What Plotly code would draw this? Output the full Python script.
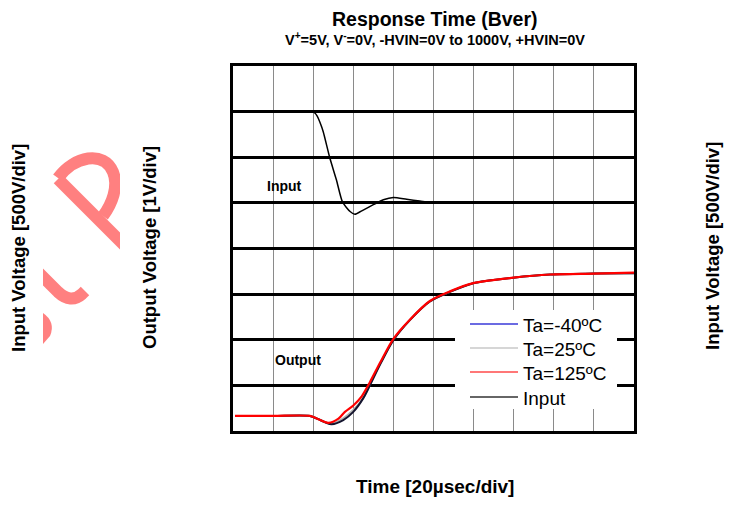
import plotly.graph_objects as go

# ---------------- data (divisions) ----------------
t_input = [0.05, 1.0, 1.96, 2.04, 2.1, 2.17, 2.25, 2.41, 2.58, 2.73, 2.92, 3.04, 3.2, 3.5, 3.75, 4.0, 4.33, 4.66, 5.0, 6.0, 7.5, 9.0, 10.0]
v_input = [7.0, 7.0, 7.0, 6.97, 6.9, 6.76, 6.56, 6.0, 5.5, 5.02, 4.81, 4.75, 4.82, 4.96, 5.07, 5.12, 5.08, 5.04, 5.0, 5.0, 5.0, 5.0, 5.0]

t_out_m40 = [0.05, 1.0, 1.92, 2.1, 2.3, 2.46, 2.75, 3.0, 3.25, 3.42, 3.67, 4.0, 4.41, 4.91, 5.41, 5.99, 6.99, 7.91, 9.0, 10.0]
v_out_m40 = [0.33, 0.33, 0.33, 0.27, 0.19, 0.15, 0.24, 0.42, 0.72, 1.01, 1.46, 1.99, 2.43, 2.84, 3.05, 3.24, 3.36, 3.43, 3.45, 3.46]

t_out_25 = [0.05, 1.0, 1.92, 2.1, 2.3, 2.44, 2.75, 3.0, 3.25, 3.42, 3.67, 4.0, 4.41, 4.91, 5.41, 5.99, 6.99, 7.91, 9.0, 10.0]
v_out_25 = [0.33, 0.33, 0.33, 0.27, 0.19, 0.16, 0.28, 0.46, 0.73, 1.03, 1.47, 2.0, 2.43, 2.84, 3.05, 3.24, 3.36, 3.43, 3.45, 3.46]

t_out_125 = [0.05, 1.0, 1.92, 2.1, 2.38, 2.63, 2.79, 3.0, 3.21, 3.42, 3.67, 4.0, 4.41, 4.91, 5.41, 5.99, 6.99, 7.91, 9.0, 10.0]
v_out_125 = [0.33, 0.33, 0.33, 0.27, 0.18, 0.27, 0.42, 0.56, 0.76, 1.08, 1.50, 2.02, 2.44, 2.85, 3.06, 3.24, 3.36, 3.43, 3.45, 3.47]

legend_names = ["Ta=-40ºC", "Ta=25ºC", "Ta=125ºC", "Input"]
legend_colors = ["#3a3ad8", "#c8c8c8", "#ff4a4a", "#333333"]

title_text = "Response Time (Bver)"
subtitle_text = "V<sup>+</sup>=5V, V<sup>-</sup>=0V, -HVIN=0V to 1000V, +HVIN=0V"
x_title = "Time [20µsec/div]"
y_left_title = "Input Voltage [500V/div]"
y_out_title = "Output Voltage [1V/div]"
y_right_title = "Input Voltage [500V/div]"

# ---------------- geometry (screen pixels) ----------------
W, H = 739, 506
OFF = 8  # default page body margin
L, R, T, B = 233, 105, 66, 75   # wanted on-screen plot area: x 233..634, y 66..431
PW, PH = W - L - R, H - T - B


def px(x):
    return (x - L) / PW


def py(y):
    return (H - B - y) / PH


FONT = "Arial, Liberation Sans, sans-serif"

fig = go.Figure()
fig.add_trace(go.Scatter(x=t_out_25, y=v_out_25, mode="lines", name=legend_names[1],
                         line=dict(color="#b0b0b0", width=2, shape="spline", smoothing=0.8), showlegend=False))
fig.add_trace(go.Scatter(x=t_out_m40, y=v_out_m40, mode="lines", name=legend_names[0],
                         line=dict(color="#14142e", width=2, shape="spline", smoothing=0.8), showlegend=False))
fig.add_trace(go.Scatter(x=t_out_125, y=v_out_125, mode="lines", name=legend_names[2],
                         line=dict(color="#ff0000", width=2.2, shape="spline", smoothing=0.8), showlegend=False))
fig.add_trace(go.Scatter(x=t_input, y=v_input, mode="lines", name=legend_names[3],
                         line=dict(color="#000000", width=1.5, shape="spline", smoothing=0.6), showlegend=False))

shapes = []
pink = "#ff8080"


def P(x, y):
    return f"{px(x):.5f},{py(y):.5f}"


# watermark (partial logo)
shapes.append(dict(type="path", xref="paper", yref="paper", layer="above",
                   path=f"M{P(58,179)} L{P(128,249)}",
                   line=dict(color=pink, width=12)))
shapes.append(dict(type="path", xref="paper", yref="paper", layer="above",
                   path=f"M{P(58,178)} C{P(74,156)} {P(104,150)} {P(113,172)} C{P(119,186)} {P(112,204)} {P(103,216)}",
                   line=dict(color=pink, width=12)))
shapes.append(dict(type="path", xref="paper", yref="paper", layer="above",
                   path=f"M{P(36,270)} L{P(58,292)} Q{P(71,304)} {P(82,294)} L{P(85,291)}",
                   line=dict(color=pink, width=12)))
shapes.append(dict(type="path", xref="paper", yref="paper", layer="above",
                   path=f"M{P(43,313)} Q{P(56,322)} {P(50,336)} L{P(43,344)} Z",
                   fillcolor=pink, line=dict(color=pink, width=0)))
# clip the watermark
shapes.append(dict(type="rect", xref="paper", yref="paper", layer="above",
                   x0=px(8), x1=px(43), y0=py(130), y1=py(370), fillcolor="white", line=dict(width=0)))
shapes.append(dict(type="rect", xref="paper", yref="paper", layer="above",
                   x0=px(120), x1=px(229), y0=py(130), y1=py(370), fillcolor="white", line=dict(width=0)))

# legend box
shapes.append(dict(type="rect", xref="paper", yref="paper", layer="above",
                   x0=px(455), x1=px(617), y0=py(310), y1=py(409), fillcolor="white", line=dict(width=0)))
annotations = []
row_y = [324, 348, 372, 397]
for name, col, ry in zip(legend_names, legend_colors, row_y):
    shapes.append(dict(type="line", xref="paper", yref="paper", layer="above",
                       x0=px(470), x1=px(518), y0=py(ry), y1=py(ry), line=dict(color=col, width=1.5)))
    annotations.append(dict(text=name, xref="paper", yref="paper", x=px(521), y=py(ry + 1),
                            xanchor="left", yanchor="middle", showarrow=False,
                            font=dict(family=FONT, size=19, color="black")))

# titles
annotations.append(dict(text=f"<b>{title_text}</b>", xref="paper", yref="paper", x=px(435), y=py(19),
                        xanchor="center", yanchor="middle", showarrow=False,
                        font=dict(family=FONT, size=19.5, color="black")))
annotations.append(dict(text=f"<b>{subtitle_text}</b>", xref="paper", yref="paper", x=px(435), y=py(39),
                        xanchor="center", yanchor="middle", showarrow=False,
                        font=dict(family=FONT, size=14.5, color="black")))
annotations.append(dict(text=f"<b>{x_title}</b>", xref="paper", yref="paper", x=px(435), y=py(486),
                        xanchor="center", yanchor="middle", showarrow=False,
                        font=dict(family=FONT, size=19, color="black")))
for txt, xx, yy in [(y_left_title, 19, 248), (y_out_title, 150, 248), (y_right_title, 712, 246)]:
    annotations.append(dict(text=f"<b>{txt}</b>", xref="paper", yref="paper", x=px(xx), y=py(yy),
                            xanchor="center", yanchor="middle", showarrow=False, textangle=-90,
                            font=dict(family=FONT, size=18.5, color="black")))
annotations.append(dict(text="<b>Input</b>", xref="paper", yref="paper", x=px(284), y=py(186),
                        xanchor="center", yanchor="middle", showarrow=False,
                        font=dict(family=FONT, size=14, color="black")))
annotations.append(dict(text="<b>Output</b>", xref="paper", yref="paper", x=px(297.5), y=py(360),
                        xanchor="center", yanchor="middle", showarrow=False,
                        font=dict(family=FONT, size=14, color="black")))

fig.update_layout(
    width=W, height=H,
    margin=dict(l=L - OFF, r=R + OFF, t=T - OFF, b=B + OFF, pad=0),
    paper_bgcolor="white", plot_bgcolor="white",
    showlegend=False,
    shapes=shapes, annotations=annotations,
    font=dict(family=FONT),
    xaxis=dict(range=[0, 10], tick0=0, dtick=1, showticklabels=False, ticks="",
               showgrid=True, gridcolor="#8a8a8a", gridwidth=1, zeroline=False,
               showline=True, linecolor="black", linewidth=3, mirror=True, fixedrange=True),
    yaxis=dict(range=[0, 8], tick0=0, dtick=1, showticklabels=False, ticks="",
               showgrid=True, gridcolor="black", gridwidth=2.6, zeroline=False,
               showline=True, linecolor="black", linewidth=3, mirror=True, fixedrange=True),
)

fig.write_html("out.html")
